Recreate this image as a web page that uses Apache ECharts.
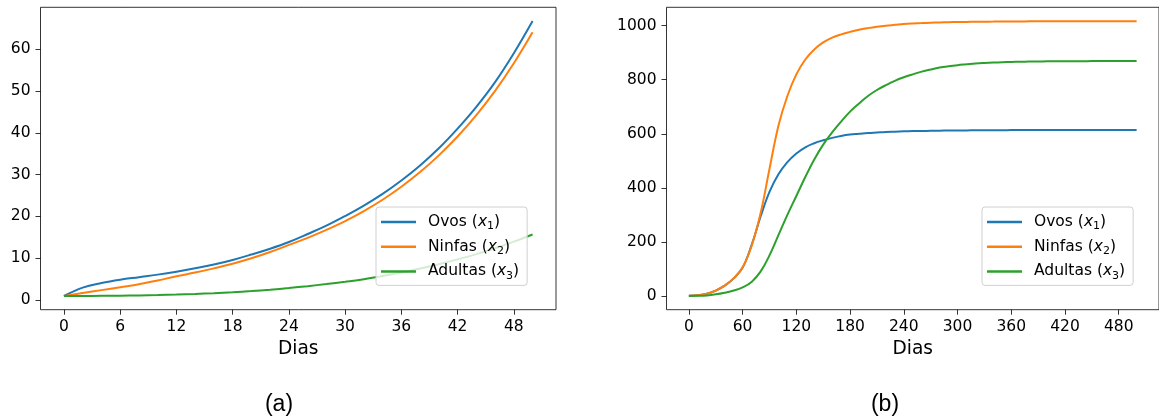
<!DOCTYPE html>
<html>
<head>
<meta charset="utf-8">
<script src="https://cdn.jsdelivr.net/npm/echarts@6/dist/echarts.min.js"></script>
<style>
  html, body { margin: 0; padding: 0; background: #fff; }
  #chart { width: 1159px; height: 419px; }
</style>
</head>
<body>
<div id="chart"></div>
<script>
// (a) first 50 days, every 2 days
const diasA = [0, 2, 4, 6, 8, 10, 12, 14, 16, 18, 20, 22, 24, 26, 28, 30, 32, 34, 36, 38, 40, 42, 44, 46, 48, 50];
const ovosA = [1.0, 3.0, 4.1, 4.9, 5.5, 6.1, 6.8, 7.6, 8.5, 9.6, 10.9, 12.3, 13.9, 15.8, 17.8, 20.1, 22.6, 25.4, 28.6, 32.2, 36.3, 41.0, 46.2, 52.1, 59.0, 66.7];
const ninfasA = [1.0, 1.7, 2.4, 3.1, 3.8, 4.7, 5.7, 6.6, 7.6, 8.7, 10.0, 11.5, 13.2, 14.9, 16.8, 18.9, 21.3, 24.0, 27.1, 30.6, 34.6, 39.1, 44.2, 50.0, 56.6, 64.0];
const adultasA = [1.0, 1.0, 1.03, 1.07, 1.13, 1.22, 1.33, 1.48, 1.67, 1.9, 2.17, 2.5, 2.9, 3.35, 3.85, 4.4, 5.0, 5.75, 6.6, 7.55, 8.6, 9.75, 11.0, 12.4, 14.0, 15.7];

// (b) 500 days, every 10 days
const diasB = [0, 10, 20, 30, 40, 50, 60, 70, 80, 90, 100, 110, 120, 130, 140, 150, 160, 170, 180, 190, 200,
  210, 220, 230, 240, 250, 260, 270, 280, 290, 300, 310, 320, 330, 340, 350, 360, 370, 380, 390, 400,
  410, 420, 430, 440, 450, 460, 470, 480, 490, 500];
const ovosB = [1, 3, 8, 20, 38, 65, 105, 188, 293, 385, 450, 495, 527, 550, 565, 576, 585, 592, 597, 600, 603,
  605, 607, 608, 609, 610, 610.5, 611, 611.5, 612, 612.3, 612.6, 612.9, 613.1, 613.3, 613.5, 613.6, 613.7, 613.8, 613.9, 614,
  614, 614, 614, 614, 614, 614, 614, 614, 614, 614];
const ninfasB = [1, 3, 8, 20, 38, 65, 105, 185, 305, 470, 630, 740, 820, 875, 912, 938, 956, 968, 977, 985, 991,
  996, 1000, 1003, 1006, 1008, 1009.5, 1011, 1012, 1013, 1013.5, 1014, 1014.4, 1014.8, 1015.1, 1015.4, 1015.6, 1015.8, 1016, 1016.1, 1016.2,
  1016.3, 1016.4, 1016.4, 1016.5, 1016.5, 1016.5, 1016.5, 1016.5, 1016.5, 1016.5];
const adultasB = [0, 0.5, 2, 6, 12, 20, 32, 52, 90, 150, 225, 300, 370, 440, 505, 560, 605, 645, 682, 712, 740,
  762, 780, 796, 809, 820, 830, 838, 845, 850, 854, 857, 860, 862, 863.5, 864.8, 865.8, 866.6, 867.2, 867.7, 868,
  868.3, 868.5, 868.7, 868.8, 868.9, 869, 869, 869, 869, 869];

const ticksXA = [0, 6, 12, 18, 24, 30, 36, 42, 48];
const ticksYA = [0, 10, 20, 30, 40, 50, 60];
const ticksXB = [0, 60, 120, 180, 240, 300, 360, 420, 480];
const ticksYB = [0, 200, 400, 600, 800, 1000];

const nomes = ['Ovos', 'Ninfas', 'Adultas'];
const cores = ['#1f77b4', '#ff7f0e', '#2ca02c'];

const FONT = 'DejaVu Sans';
const pairs = (xs, ys) => xs.map((x, i) => [x, ys[i]]);

function xAxisOf(gridIndex, min, max, ticks) {
  return {
    type: 'value', gridIndex, min, max,
    splitLine: { show: false },
    axisLine: { show: false, onZero: false },
    axisTick: { show: true, customValues: ticks, length: 5, lineStyle: { color: '#000', width: 0.8 } },
    axisLabel: { customValues: ticks, margin: 9, color: '#000', fontSize: 15.5, fontFamily: FONT, formatter: v => String(v) },
    name: 'Dias', nameLocation: 'middle', nameGap: 29,
    nameTextStyle: { color: '#000', fontSize: 18.6, fontFamily: FONT }
  };
}
function yAxisOf(gridIndex, min, max, ticks) {
  return {
    type: 'value', gridIndex, min, max,
    splitLine: { show: false },
    axisLine: { show: false, onZero: false },
    axisTick: { show: true, customValues: ticks, length: 5, lineStyle: { color: '#000', width: 0.8 } },
    axisLabel: { customValues: ticks, margin: 10, color: '#000', fontSize: 15.5, fontFamily: FONT, formatter: v => String(v) }
  };
}
function seriesOf(idx, xs, ys, k) {
  return {
    name: nomes[k], type: 'line', xAxisIndex: idx, yAxisIndex: idx,
    data: pairs(xs, ys), showSymbol: false, smooth: 0.4,
    lineStyle: { color: cores[k], width: 2 }, itemStyle: { color: cores[k] },
    emphasis: { disabled: true }, animation: false
  };
}
function legendOf(left) {
  return {
    orient: 'vertical', left, top: 207,
    data: nomes.map((n, k) => ({ name: n, icon: 'rect', itemStyle: { color: cores[k] } })),
    itemWidth: 35, itemHeight: 2.5, itemGap: 6.7,
    padding: [7, 8, 4, 5],
    backgroundColor: 'rgba(255,255,255,0.8)',
    borderColor: '#d0d0d0', borderWidth: 1, borderRadius: 3,
    selectedMode: false,
    formatter: n => `{n|${n} (}{i|x}{s|${nomes.indexOf(n) + 1}}{n|)}`,
    textStyle: {
      padding: [0, 0, 0, 7],
      rich: {
        n: { fontFamily: FONT, fontSize: 15.5, color: '#000', lineHeight: 20 },
        i: { fontFamily: FONT, fontSize: 15.5, fontStyle: 'italic', color: '#000', lineHeight: 20 },
        s: { fontFamily: FONT, fontSize: 11, color: '#000', lineHeight: 13, verticalAlign: 'bottom' }
      }
    }
  };
}

const chart = echarts.init(document.getElementById('chart'), null, { renderer: 'canvas' });
chart.setOption({
  animation: false,
  backgroundColor: '#fff',
  grid: [
    { left: 40.5, top: 7.3, width: 515.5, height: 302.4, show: true, borderColor: '#000', borderWidth: 0.8, backgroundColor: 'transparent' },
    { left: 666.5, top: 7.3, width: 494.5, height: 302.4, show: true, borderColor: '#000', borderWidth: 0.8, backgroundColor: 'transparent' }
  ],
  xAxis: [xAxisOf(0, -2.5, 52.5, ticksXA), xAxisOf(1, -25, 525, ticksXB)],
  yAxis: [yAxisOf(0, -2.28, 69.98, ticksYA), yAxisOf(1, -50.8, 1068, ticksYB)],
  legend: [legendOf(376), legendOf(982)],
  series: [
    seriesOf(0, diasA, ovosA, 0), seriesOf(0, diasA, ninfasA, 1), seriesOf(0, diasA, adultasA, 2),
    seriesOf(1, diasB, ovosB, 0), seriesOf(1, diasB, ninfasB, 1), seriesOf(1, diasB, adultasB, 2)
  ],
  graphic: [
    { type: 'text', x: 279, y: 405, style: { text: '(a)', font: '23px "Liberation Sans"', fill: '#000', textAlign: 'center', textVerticalAlign: 'middle' } },
    { type: 'text', x: 885, y: 405, style: { text: '(b)', font: '23px "Liberation Sans"', fill: '#000', textAlign: 'center', textVerticalAlign: 'middle' } }
  ]
});
</script>
</body>
</html>
